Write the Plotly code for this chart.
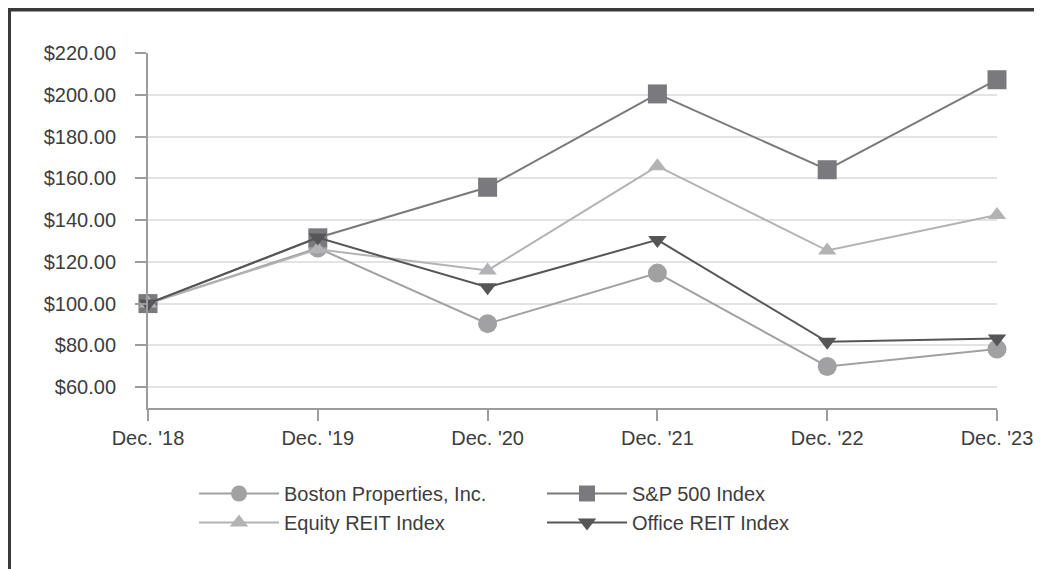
import plotly.graph_objects as go

# ---- data ----
periods = ["Dec. '18", "Dec. '19", "Dec. '20", "Dec. '21", "Dec. '22", "Dec. '23"]
boston = [100.0, 126.6, 90.4, 114.6, 69.9, 78.2]
sp500 = [100.0, 131.5, 155.7, 200.4, 164.1, 207.2]
equity_reit = [100.0, 126.0, 115.9, 165.8, 125.4, 142.4]
office_reit = [100.0, 131.6, 107.8, 130.5, 81.7, 83.3]
ytick_vals = [60, 80, 100, 120, 140, 160, 180, 200, 220]
ytick_text = ["$60.00", "$80.00", "$100.00", "$120.00", "$140.00",
              "$160.00", "$180.00", "$200.00", "$220.00"]

# ---- layout geometry (figure pixels; page has an 8px body margin) ----
OFF = 8
W, H = 1042, 569 - OFF
L, R, T, B = 140, 1042 - 989, 45, 161
PW, PH = W - L - R, H - T - B


def px(x):
    """screenshot x pixel -> paper coordinate"""
    return (x - OFF - L) / PW


def py(y):
    """screenshot y pixel -> paper coordinate"""
    return (H - B - (y - OFF)) / PH


FONT = "Arial, Liberation Sans, sans-serif"
TXT = "#3d3d3d"
AX = "#9c9c9c"

fig = go.Figure()

series = [
    ("Boston Properties, Inc.", boston, "#a1a1a4", "circle", 19, "legend"),
    ("S&P 500 Index", sp500, "#7a7a7e", "square", 19, "legend2"),
    ("Equity REIT Index", equity_reit, "#b3b3b5", "triangle-up", 16, "legend"),
    ("Office REIT Index", office_reit, "#565658", "triangle-down", 16, "legend2"),
]
for name, vals, col, sym, size, lg in series:
    fig.add_trace(go.Scatter(
        x=periods, y=vals, name=name, mode="lines+markers",
        line=dict(color=col, width=2),
        marker=dict(symbol=sym, size=size, color=col, line=dict(width=0)),
        legend=lg, cliponaxis=False,
    ))

legend_common = dict(
    orientation="v", xanchor="left", yanchor="top",
    font=dict(family=FONT, size=20, color=TXT),
    itemwidth=80, bgcolor="rgba(0,0,0,0)", tracegroupgap=0,
)

fig.update_layout(
    width=W, height=H,
    margin=dict(l=L, r=R, t=T, b=B),
    paper_bgcolor="white", plot_bgcolor="white",
    font=dict(family=FONT, size=20, color=TXT),
    showlegend=True,
    legend=dict(x=px(194), y=py(474), **legend_common),
    legend2=dict(x=px(542), y=py(474), **legend_common),
    xaxis=dict(
        type="category", range=[0, 5],
        showgrid=False, zeroline=False,
        showline=True, linecolor=AX, linewidth=2,
        ticks="outside", ticklen=11, tickwidth=2, tickcolor=AX,
        tickfont=dict(family=FONT, size=20, color=TXT),
    ),
    yaxis=dict(
        range=[50, 220], tickvals=ytick_vals, ticktext=ytick_text,
        showgrid=True, gridcolor="#e3e3e3", gridwidth=2,
        zeroline=False,
        showline=True, linecolor=AX, linewidth=2,
        ticks="outside", ticklen=11, tickwidth=2, tickcolor=AX,
        ticklabelstandoff=15,
        tickfont=dict(family=FONT, size=20, color=TXT),
    ),
    shapes=[
        dict(type="line", xref="paper", yref="paper",
             x0=px(7), x1=px(1042 + 20), y0=py(9.5), y1=py(9.5),
             line=dict(color="#3a3a3a", width=4)),
        dict(type="line", xref="paper", yref="paper",
             x0=px(9), x1=px(9), y0=py(7.5), y1=py(569 + 20),
             line=dict(color="#3a3a3a", width=4)),
    ],
)

fig.write_html("out.html")
